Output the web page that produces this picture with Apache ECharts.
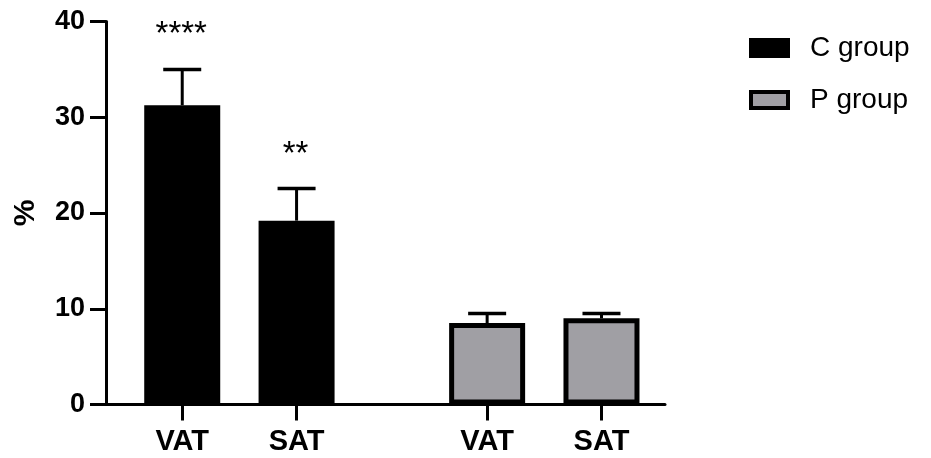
<!DOCTYPE html>
<html>
<head>
<meta charset="utf-8">
<script src="https://cdn.jsdelivr.net/npm/echarts@6/dist/echarts.min.js"></script>
<style>
html,body{margin:0;padding:0;background:#fff;}
#chart{width:931px;height:458px;}
</style>
</head>
<body>
<div id="chart"></div>
<script>
// ---- data ----
const categories = ['VAT', 'SAT', 'VAT', 'SAT'];
const groupNames = ['C group', 'P group'];
const cValues = [31.25, 19.2];
const cErrors = [3.75, 3.35];
const pValues = [8.5, 9.0];
const pErrors = [1.0, 0.5];
const significance = ['****', '**', '', ''];
const yTicks = [0, 10, 20, 30, 40];

// ---- layout (slots on a fine category axis to reproduce group spacing) ----
const slotCount = 45;
const slotIndex = [6, 15, 30, 39];
const FONT = 'Liberation Sans, Arial, Helvetica, sans-serif';

const axisData = new Array(slotCount).fill('');
slotIndex.forEach((s, i) => { axisData[s] = categories[i]; });

function slotSeries(values, offset) {
  const arr = new Array(slotCount).fill('-');
  values.forEach((v, i) => { arr[slotIndex[offset + i]] = v; });
  return arr;
}
const allValues = cValues.concat(pValues);
const allErrors = cErrors.concat(pErrors);
const errData = allValues.map((v, i) => [slotIndex[i], v, allErrors[i]]);

const chart = echarts.init(document.getElementById('chart'), null, {renderer: 'canvas'});
chart.setOption({
  animation: false,
  backgroundColor: '#fff',
  textStyle: {fontFamily: FONT},
  grid: {left: 106, right: 266, top: 21.5, bottom: 53.5, containLabel: false},
  legend: {
    data: groupNames.map(n => ({name: n, icon: 'rect'})),
    orient: 'vertical',
    left: 749, top: 34, padding: 0,
    itemWidth: 37, itemHeight: 16, itemGap: 24,
    itemStyle: {borderWidth: 4, borderColor: '#000'},
    textStyle: {fontSize: 28, color: '#000', fontFamily: FONT, padding: [0, 0, 0, 17]},
    selectedMode: false
  },
  xAxis: {
    type: 'category',
    data: axisData,
    boundaryGap: false,
    axisLine: {lineStyle: {color: '#000', width: 3}},
    axisTick: {
      length: 16,
      lineStyle: {color: '#000', width: 3},
      interval: (idx, val) => val !== ''
    },
    axisLabel: {interval: 0, color: '#000', fontSize: 29, fontWeight: 'bold', margin: 23, fontFamily: FONT},
    splitLine: {show: false}
  },
  yAxis: {
    type: 'value',
    min: 0, max: 40, interval: 10,
    name: '%',
    nameLocation: 'middle',
    nameGap: 65,
    nameRotate: 90,
    nameTextStyle: {fontSize: 30, fontWeight: 'bold', color: '#000', fontFamily: FONT},
    axisLine: {show: true, lineStyle: {color: '#000', width: 3}},
    axisTick: {show: true, length: 16, lineStyle: {color: '#000', width: 3}},
    axisLabel: {color: '#000', fontSize: 27, fontWeight: 'bold', margin: 21, fontFamily: FONT,
      formatter: v => yTicks.includes(v) ? String(v) : ''},
    splitLine: {show: false}
  },
  series: [
    {
      name: groupNames[0], type: 'bar', data: slotSeries(cValues, 0),
      barWidth: 76, barGap: '-100%',
      itemStyle: {color: '#000', borderColor: '#000', borderWidth: 5},
      z: 2
    },
    {
      name: groupNames[1], type: 'bar', data: slotSeries(pValues, 2),
      barWidth: 76, barGap: '-100%',
      itemStyle: {color: '#a09fa4', borderColor: '#000', borderWidth: 5},
      z: 2
    },
    {
      name: 'err', type: 'custom', data: errData, z: 5,
      encode: {x: 0, y: 1},
      renderItem: function (params, api) {
        const x = api.value(0), v = api.value(1), e = api.value(2);
        const base = api.coord([x, v]);
        const top = api.coord([x, v + e]);
        const half = 19;
        const children = [
          {type: 'line', shape: {x1: base[0], y1: base[1], x2: top[0], y2: top[1]},
            style: {stroke: '#000', lineWidth: 3}},
          {type: 'line', shape: {x1: top[0] - half, y1: top[1], x2: top[0] + half, y2: top[1]},
            style: {stroke: '#000', lineWidth: 3.5}}
        ];
        const sig = significance[params.dataIndex];
        if (sig) {
          children.push({type: 'text', x: top[0] - 1, y: top[1] - 34,
            style: {text: sig, fontSize: 33, fontFamily: FONT, fill: '#000',
              align: 'center', verticalAlign: 'middle'}});
        }
        return {type: 'group', children: children};
      }
    }
  ]
});
</script>
</body>
</html>
